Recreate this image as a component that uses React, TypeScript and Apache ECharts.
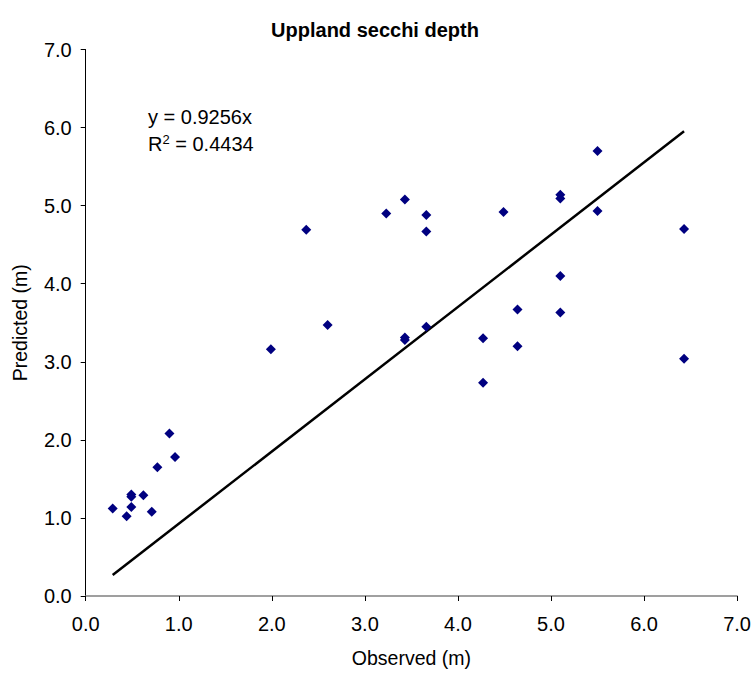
import React, { useEffect, useRef } from "react";
import * as echarts from "echarts";

const observed = [
  0.29, 0.44, 0.49, 0.49, 0.49, 0.62, 0.71, 0.77, 0.90, 0.96,
  1.99, 2.37, 2.60, 3.23, 3.43, 3.43, 3.43, 3.66, 3.66, 3.66,
  4.27, 4.27, 4.49, 4.64, 4.64, 5.10, 5.10, 5.10, 5.10, 5.50,
  5.50, 6.43, 6.43,
];
const predicted = [
  1.12, 1.02, 1.30, 1.27, 1.14, 1.29, 1.08, 1.65, 2.08, 1.78,
  3.16, 4.69, 3.47, 4.90, 5.08, 3.31, 3.28, 4.88, 4.67, 3.45,
  3.30, 2.73, 4.92, 3.67, 3.20, 5.14, 5.09, 4.10, 3.63, 5.70,
  4.93, 4.70, 3.04,
];
const slope = 0.9256;
const rSquared = 0.4434;
const axisTicks = [0, 1, 2, 3, 4, 5, 6, 7];

export default function App() {
  const ref = useRef<HTMLDivElement>(null);
  useEffect(() => {
    document.body.style.margin = "0";
    if (!ref.current) return;
    const chart = echarts.init(ref.current, undefined, { renderer: "svg" });
    const points = observed.map((x, i) => [x, predicted[i]]);
    const xMin = Math.min(...observed);
    const xMax = Math.max(...observed);
    const trend = [
      [xMin, slope * xMin],
      [xMax, slope * xMax],
    ];
    const font = "'Liberation Sans', Arial, sans-serif";
    chart.setOption({
      animation: false,
      backgroundColor: "#ffffff",
      title: {
        text: "Uppland secchi depth",
        left: 370,
        top: 15,
        textAlign: "center",
        textStyle: { fontFamily: font, fontSize: 20, fontWeight: "bold", color: "#000" },
      },
      grid: { left: 85.7, right: 15, top: 49.5, bottom: 75.3 },
      xAxis: {
        type: "value",
        min: axisTicks[0],
        max: axisTicks[axisTicks.length - 1],
        interval: 1,
        name: "Observed (m)",
        nameLocation: "middle",
        nameGap: 52,
        nameTextStyle: { fontFamily: font, fontSize: 19.5, color: "#000" },
        axisLine: { show: true, lineStyle: { color: "#808080", width: 1.5 } },
        axisTick: { show: true, inside: false, length: 5, lineStyle: { color: "#000" } },
        axisLabel: {
          fontFamily: font,
          fontSize: 20,
          color: "#000",
          margin: 18,
          formatter: (v: number) => v.toFixed(1),
        },
        splitLine: { show: false },
      },
      yAxis: {
        type: "value",
        min: axisTicks[0],
        max: axisTicks[axisTicks.length - 1],
        interval: 1,
        name: "Predicted (m)",
        nameLocation: "middle",
        nameGap: 56,
        nameTextStyle: { fontFamily: font, fontSize: 19.5, color: "#000" },
        axisLine: { show: true, lineStyle: { color: "#000", width: 1 } },
        axisTick: { show: true, inside: false, length: 5, lineStyle: { color: "#000" } },
        axisLabel: {
          fontFamily: font,
          fontSize: 20,
          color: "#000",
          margin: 14,
          formatter: (v: number) => v.toFixed(1),
        },
        splitLine: { show: false },
      },
      graphic: [
        {
          type: "text",
          x: 148,
          y: 117,
          style: {
            text: "y = " + slope.toFixed(4) + "x",
            font: "20px 'Liberation Sans', Arial, sans-serif",
            fill: "#000",
            verticalAlign: "middle",
          },
        },
        {
          type: "text",
          x: 148,
          y: 144,
          style: {
            text: "{a|R}{s|2}{a| = " + rSquared.toFixed(4) + "}",
            font: "20px 'Liberation Sans', Arial, sans-serif",
            fill: "#000",
            verticalAlign: "middle",
            rich: {
              a: { fontFamily: font, fontSize: 20, fill: "#000", lineHeight: 22 },
              s: {
                fontFamily: font,
                fontSize: 13,
                fill: "#000",
                verticalAlign: "top",
                lineHeight: 13,
              },
            },
          },
        },
      ],
      series: [
        {
          type: "line",
          data: trend,
          showSymbol: false,
          symbol: "none",
          lineStyle: { color: "#000", width: 2.5 },
          silent: true,
          z: 1,
        },
        {
          type: "scatter",
          data: points,
          symbol: "diamond",
          symbolSize: [10, 10],
          itemStyle: { color: "#000080", opacity: 1 },
          z: 2,
        },
      ],
    });
    return () => chart.dispose();
  }, []);
  return <div ref={ref} style={{ width: 754, height: 673 }} />;
}
